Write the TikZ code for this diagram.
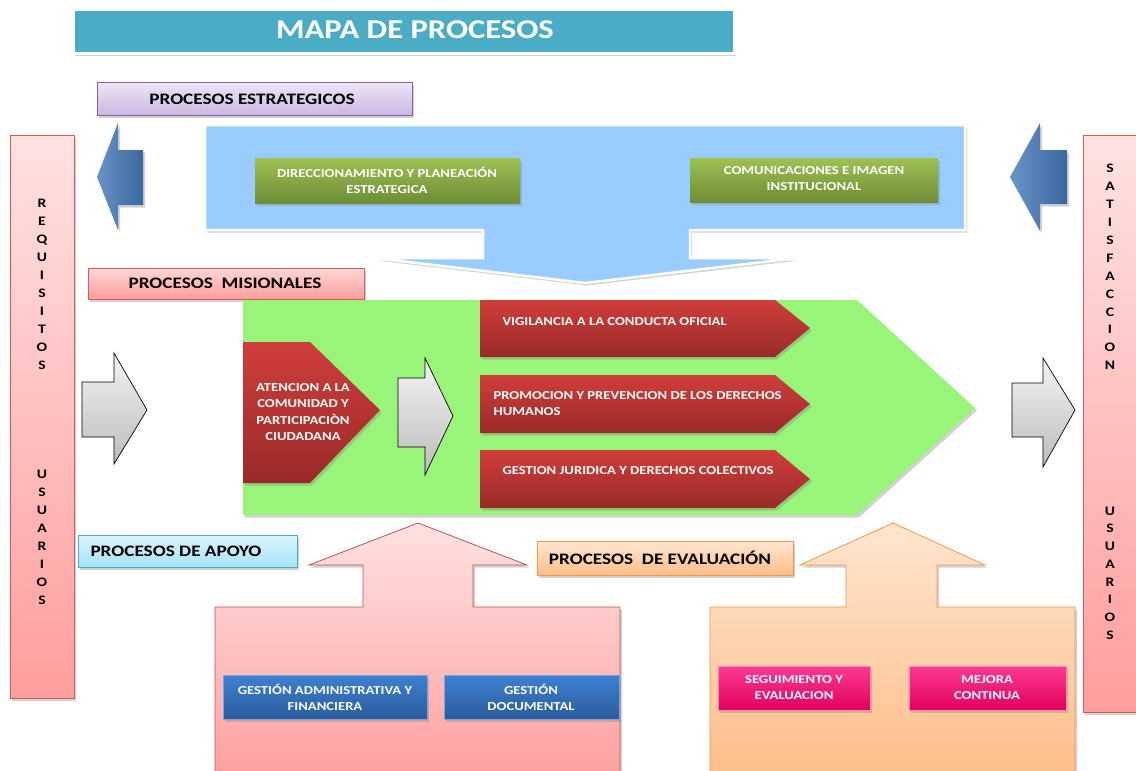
\documentclass[tikz,border=0pt]{standalone}
\usepackage{fontspec}
\setmainfont{Carlito}[FakeStretch=1.2]
\usetikzlibrary{shadows}
\definecolor{titlec}{HTML}{4BACC6}
\definecolor{lavtop}{HTML}{EEE6F7}
\definecolor{lavbot}{HTML}{CBB6E2}
\definecolor{lavdraw}{HTML}{8064A2}
\definecolor{skyc}{HTML}{99CCFF}
\definecolor{grtop}{HTML}{9DC152}
\definecolor{grbot}{HTML}{6E8C35}
\definecolor{bluarr}{HTML}{4F81BD}
\definecolor{bluarrd}{HTML}{3A679F}
\definecolor{pinktop}{HTML}{FFE2E2}
\definecolor{pinkbot}{HTML}{FF9E9E}
\definecolor{pinkdraw}{HTML}{D65A5A}
\definecolor{mistop}{HTML}{FFD6D6}
\definecolor{misbot}{HTML}{FF9C9C}
\definecolor{biggreen}{HTML}{99F57A}
\definecolor{redtop}{HTML}{D03E3B}
\definecolor{redbot}{HTML}{982A28}
\definecolor{graytop}{HTML}{F4F4F4}
\definecolor{graybot}{HTML}{BCBCBC}
\definecolor{cyantop}{HTML}{DAF5FF}
\definecolor{cyanbot}{HTML}{A6E2F6}
\definecolor{peachtop}{HTML}{FFE6D0}
\definecolor{peachbot}{HTML}{FDBD88}
\definecolor{peachdraw}{HTML}{F79646}
\definecolor{supdraw}{HTML}{C0504D}
\definecolor{doctop}{HTML}{3D80D2}
\definecolor{docbot}{HTML}{2B5B9B}
\definecolor{magtop}{HTML}{FF3A92}
\definecolor{magbot}{HTML}{E0005C}
\tikzset{
  shad/.style={drop shadow={shadow xshift=2pt,shadow yshift=-2.5pt,opacity=.35}},
  headlabel/.style={font=\fontsize{16}{18}\selectfont\bfseries, text=black},
  small/.style={font=\fontsize{12.2}{16}\selectfont\bfseries, text=white, align=center},
  greenbox/.style={top color=grtop, bottom color=grbot, shad, inner sep=0pt},
  bluebox/.style={top color=doctop, bottom color=docbot, draw=doctop!70!white, line width=.6pt, shad, inner sep=0pt},
  magbox/.style={top color=magtop, bottom color=magbot, draw=magtop!60!white, line width=.6pt, shad, inner sep=0pt},
  redarrow/.style={top color=redtop, bottom color=redbot, shad},
  grayarrow/.style={top color=graytop, bottom color=graybot, draw=black, line width=.7pt},
  blueshape/.style={left color=bluarr!85!white, right color=bluarrd, draw=none},
  sidebar/.style={top color=pinktop, bottom color=pinkbot, draw=pinkdraw, line width=.8pt, shad},
  letters/.style={font=\fontsize{13}{#1}\selectfont\bfseries, align=center, text=black}
}
\begin{document}
\begin{tikzpicture}[x=1pt,y=-1pt]
\useasboundingbox (0,0) rectangle (1136,771);
\clip (0,0) rectangle (1136,771);
\fill[white] (0,0) rectangle (1136,771);

% title
\node[fill=titlec, draw=white, line width=2.5pt, shad, minimum width=661pt, minimum height=44pt, anchor=north west, inner sep=0pt] (title) at (72,8) {};
\node[font=\fontsize{27.2}{30}\selectfont\bfseries, text=white] (titlet) at (415,30) {MAPA DE PROCESOS};

% side bars
\path[sidebar] (10,135) rectangle (74,698);
\node[letters=18] (req) at (42,284) {R\\E\\Q\\U\\I\\S\\I\\T\\O\\S};
\node[letters=18] (usu1) at (42,537) {U\\S\\U\\A\\R\\I\\O\\S};
\path[sidebar] (1083,135) rectangle (1140,712);
\node[letters=17.9] (sat) at (1110,267) {S\\A\\T\\I\\S\\F\\A\\C\\C\\I\\O\\N};
\node[letters=17.7] (usu2) at (1110,573) {U\\S\\U\\A\\R\\I\\O\\S};

% estrategicos label
\node[top color=lavtop, bottom color=lavbot, draw=lavdraw, line width=.7pt, shad, minimum width=315pt, minimum height=33pt,
  anchor=north west, inner sep=0pt] (estbox) at (97,82) {};
\node[headlabel] (estlab) at (252,99) {PROCESOS ESTRATEGICOS};

% blue arrows
\path[blueshape, shad] (97,177) -- (118,123) -- (118,150) -- (143,150) -- (143,205) -- (118,205) -- (118,230) -- cycle;
\path[blueshape, shad] (1010,177) -- (1040,123) -- (1040,150) -- (1067,150) -- (1067,204) -- (1040,204) -- (1040,231) -- cycle;

% strategic area
\path[fill=skyc, draw=white, line width=2.5pt, shad]
  (205,125) -- (965,125) -- (965,230) -- (690,230) -- (690,258) -- (797,258) -- (585,283)
  -- (375,258) -- (483,258) -- (483,230) -- (205,230) -- cycle;
\node[greenbox, minimum width=265pt, minimum height=45pt, anchor=north west] (dir) at (255,158) {};
\node[small] (dirt) at (387,180) {DIRECCIONAMIENTO Y PLANEACIÓN\\ESTRATEGICA};
\node[greenbox, minimum width=248pt, minimum height=44pt, anchor=north west] (com) at (690,158) {};
\node[small] (comt) at (814,179) {COMUNICACIONES E IMAGEN\\INSTITUCIONAL};

% misionales label
\node[top color=mistop, bottom color=misbot, draw=pinkdraw, line width=.7pt, shad, minimum width=276pt, minimum height=31pt,
  anchor=north west, inner sep=0pt] (misbox) at (88,268) {};
\node[headlabel] (mislab) at (225,283) {PROCESOS\ \ MISIONALES};

% big green arrow
\path[fill=biggreen, shad] (243,300) -- (857,300) -- (975,408) -- (857,515) -- (243,515) -- cycle;

% atencion chevron
\path[redarrow] (243,342) -- (310,342) -- (380,410) -- (310,483) -- (243,483) -- cycle;
\node[small, font=\fontsize{12.2}{16.3}\selectfont\bfseries] (aten) at (303,412) {ATENCION A LA\\COMUNIDAD Y\\PARTICIPACIÒN\\CIUDADANA};

% gray arrows
\path[grayarrow] (82,382) -- (114,382) -- (114,353) -- (147,410) -- (114,464) -- (114,437) -- (82,437) -- cycle;
\path[grayarrow] (398,378) -- (425,378) -- (425,358) -- (453,416) -- (425,475) -- (425,447) -- (398,447) -- cycle;
\path[grayarrow] (1012,383) -- (1043,383) -- (1043,358) -- (1075,410) -- (1043,467) -- (1043,437) -- (1012,437) -- cycle;

% red process arrows
\path[redarrow] (480,300) -- (775,300) -- (810,328) -- (775,357) -- (480,357) -- cycle;
\node[small, anchor=west, align=left] (vig) at (499,322) {VIGILANCIA A LA CONDUCTA OFICIAL};
\path[redarrow] (480,375) -- (775,375) -- (810,404) -- (775,433) -- (480,433) -- cycle;
\node[small, anchor=west, align=left] (prom) at (490,404) {PROMOCION Y PREVENCION DE LOS DERECHOS\\HUMANOS};
\path[redarrow] (480,450) -- (775,450) -- (810,479) -- (775,508) -- (480,508) -- cycle;
\node[small, anchor=west, align=left] (gest) at (499,471) {GESTION JURIDICA Y DERECHOS COLECTIVOS};

% apoyo label
\node[top color=cyantop, bottom color=cyanbot, draw=titlec, line width=.7pt, shad, minimum width=219pt, minimum height=32pt,
  anchor=north west, inner sep=0pt] (apbox) at (78,535) {};
\node[headlabel, anchor=west] (aplab) at (87,551) {PROCESOS DE APOYO};

% support arrow
\path[top color=pinktop, bottom color=pinkbot, draw=supdraw, line width=.8pt, shad]
  (215,780) -- (215,607) -- (363,607) -- (363,565) -- (309,565) -- (418,523) -- (527,565)
  -- (473,565) -- (473,607) -- (620,607) -- (620,780) -- cycle;
\node[bluebox, minimum width=204pt, minimum height=44pt, anchor=north west] (adm) at (223,675) {};
\node[small] (admt) at (325,697) {GESTIÓN ADMINISTRATIVA Y\\FINANCIERA};
\node[bluebox, minimum width=175pt, minimum height=44pt, anchor=north west] (doc) at (444,675) {};
\node[small] (doct) at (531,697) {GESTIÓN\\DOCUMENTAL};

% evaluation label
\node[top color=peachtop, bottom color=peachbot, draw=peachdraw, line width=.7pt, shad, minimum width=256pt, minimum height=34pt,
  anchor=north west, inner sep=0pt] (evbox) at (537,541) {};
\node[headlabel] (evlab) at (660,558) {PROCESOS\ \ DE EVALUACIÓN};

% evaluation arrow
\path[top color=peachtop, bottom color=peachbot, draw=peachdraw, line width=.8pt, shad]
  (710,780) -- (710,607) -- (846,607) -- (846,565) -- (800,565) -- (893,523) -- (985,565)
  -- (937,565) -- (937,607) -- (1075,607) -- (1075,780) -- cycle;
\node[magbox, minimum width=152pt, minimum height=44pt, anchor=north west] (seg) at (718,666) {};
\node[small] (segt) at (794,688) {SEGUIMIENTO Y\\EVALUACION};
\node[magbox, minimum width=157pt, minimum height=44pt, anchor=north west] (mej) at (909,666) {};
\node[small] (mejt) at (987,688) {MEJORA\\CONTINUA};
\end{tikzpicture}
\end{document}
